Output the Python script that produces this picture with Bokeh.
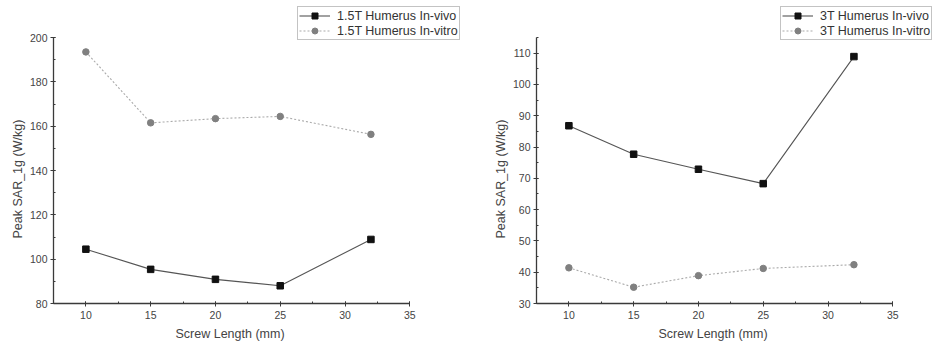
from bokeh.plotting import figure
from bokeh.layouts import row
from bokeh.models import SingleIntervalTicker, Range1d, Legend, LegendItem, Title
from bokeh.embed import file_html
from bokeh.resources import INLINE

screw_length = [10, 15, 20, 25, 32]
t15_in_vivo = [104.5, 95.4, 90.9, 88.0, 108.9]
t15_in_vitro = [193.5, 161.5, 163.4, 164.4, 156.3]
t3_in_vivo = [86.8, 77.7, 72.9, 68.3, 108.9]
t3_in_vitro = [41.4, 35.2, 38.9, 41.2, 42.4]
x_label = "Screw Length (mm)"
y_label = "Peak SAR_1g (W/kg)"

FONT = "Liberation Sans"
AX = "#3a3a3a"
X_AX = (7.5, 35)
PX_PER_X = 12.956
AX_TOP_PX = 37  # pixel row where the y axis ends


def make_panel(vivo, vitro, labels, ybounds, yint, left):
    right = 0
    frame_w = 468 - left - right
    frame_h = 348 - 45
    x_end = X_AX[0] + frame_w / PX_PER_X
    px_per_y = (frame_h - AX_TOP_PX) / (ybounds[1] - ybounds[0])
    y_end = ybounds[0] + frame_h / px_per_y
    p = figure(width=468, height=348, output_backend="svg", toolbar_location=None,
               x_range=Range1d(X_AX[0], x_end), y_range=Range1d(ybounds[0], y_end),
               min_border_left=left, min_border_right=right,
               min_border_top=0, min_border_bottom=45)
    p.outline_line_color = None
    p.xgrid.visible = False
    p.ygrid.visible = False
    p.xaxis.ticker = SingleIntervalTicker(interval=5, num_minor_ticks=2)
    p.yaxis.ticker = SingleIntervalTicker(interval=yint, num_minor_ticks=2)
    p.xaxis.bounds = X_AX
    p.yaxis.bounds = ybounds
    for ax in (p.xaxis[0], p.yaxis[0]):
        ax.axis_line_color = AX
        ax.axis_line_width = 1.3
        ax.major_tick_line_color = AX
        ax.minor_tick_line_color = AX
        ax.major_tick_in = 2
        ax.major_tick_out = 3
        ax.minor_tick_in = 2
        ax.minor_tick_out = 0
        ax.major_label_text_font = FONT
        ax.major_label_text_font_size = "10.5px"
        ax.major_label_text_color = "#444444"
    p.yaxis.major_label_standoff = 3
    p.xaxis.major_label_standoff = 4
    p.add_layout(Title(text=y_label, align="left", offset=65,
                       text_font=FONT, text_font_size="12.5px", text_font_style="normal",
                       text_color="#444444", standoff=4), "left")
    p.add_layout(Title(text=x_label, align="left", offset=122,
                       text_font=FONT, text_font_size="12.5px", text_font_style="normal",
                       text_color="#444444", standoff=7), "below")

    l1 = p.line(screw_length, vivo, line_color="#555555", line_width=1.1)
    m1 = p.scatter(screw_length, vivo, marker="square", size=6.5, fill_color="#111111",
                   line_color="#111111")
    l2 = p.line(screw_length, vitro, line_color="#aaaaaa", line_width=1.1, line_dash="2 2")
    m2 = p.scatter(screw_length, vitro, marker="circle", size=6.5, fill_color="#808080",
                   line_color="#808080")
    items = [LegendItem(label=labels[0], renderers=[l1, m1]),
             LegendItem(label=labels[1], renderers=[l2, m2])]
    leg = Legend(items=items, location=(244, 263), orientation="vertical",
                 label_text_font=FONT, label_text_font_size="12.5px",
                 label_text_color="#333333", glyph_width=31, glyph_height=15,
                 label_height=15, spacing=0, padding=1, margin=0,
                 border_line_color="#888888", border_line_width=1,
                 background_fill_color="white", background_fill_alpha=1,
                 label_standoff=7)
    p.add_layout(leg, "center")
    return p


p1 = make_panel(t15_in_vivo, t15_in_vitro,
                ["1.5T Humerus In-vivo", "1.5T Humerus In-vitro"], (80, 200), 20, 53)
p2 = make_panel(t3_in_vivo, t3_in_vitro,
                ["3T Humerus In-vivo", "3T Humerus In-vitro"], (30, 115), 10, 68)

layout = row(p1, p2, spacing=0)
open("out.html", "w").write(file_html(layout, INLINE))
